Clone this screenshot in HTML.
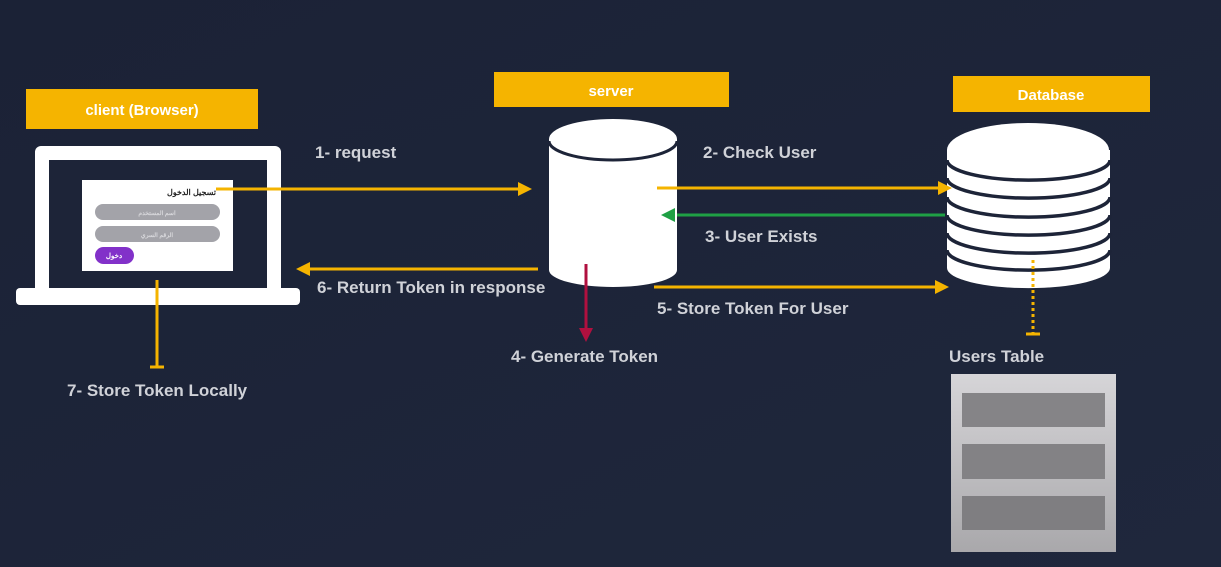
<!DOCTYPE html>
<html><head><meta charset="utf-8"><style>
html,body{margin:0;padding:0;background:#1d2438;}
svg{display:block}
text{font-family:"Liberation Sans","Noto Sans CJK SC",sans-serif;font-weight:bold;}
</style></head><body>
<svg width="1221" height="567" viewBox="0 0 1221 567">
<defs>
<linearGradient id="bg" x1="0" y1="0" x2="1" y2="1"><stop offset="0" stop-color="#1b2236"/><stop offset="1" stop-color="#1f273c"/></linearGradient>
<linearGradient id="tb" x1="0" y1="0" x2="0" y2="1"><stop offset="0" stop-color="#d6d5d8"/><stop offset="1" stop-color="#a9a8ab"/></linearGradient>
</defs>
<rect width="1221" height="567" fill="url(#bg)"/>
<rect x="26" y="89" width="232" height="40" fill="#f5b400"/>
<text x="142" y="115" fill="#fff" font-size="15" text-anchor="middle">client (Browser)</text>
<rect x="494" y="72" width="235" height="35" fill="#f5b400"/>
<text x="611" y="96" fill="#fff" font-size="15" text-anchor="middle">server</text>
<rect x="953" y="76" width="197" height="36" fill="#f5b400"/>
<text x="1051" y="100" fill="#fff" font-size="15" text-anchor="middle">Database</text>
<rect x="35" y="146" width="246" height="148" rx="6" fill="#fff"/>
<rect x="49" y="160" width="218" height="128" fill="#1d2438"/>
<rect x="16" y="288" width="284" height="17" rx="4" fill="#fff"/>
<rect x="82" y="180" width="151" height="91" fill="#fff"/>
<text x="216" y="195" fill="#222" font-size="8" text-anchor="end">تسجيل الدخول</text>
<rect x="95" y="204" width="125" height="16" rx="8" fill="#a3a3a9"/>
<text x="157" y="215" fill="#d8d8dc" font-size="6" text-anchor="middle">اسم المستخدم</text>
<rect x="95" y="226" width="125" height="16" rx="8" fill="#a3a3a9"/>
<text x="157" y="237" fill="#d8d8dc" font-size="6" text-anchor="middle">الرقم السري</text>
<rect x="95" y="247" width="39" height="17" rx="8.5" fill="#8231c9"/>
<text x="114" y="258" fill="#fff" font-size="7" text-anchor="middle">دخول</text>
<path d="M549 139 V270 A64 17 0 0 0 677 270 V139 Z" fill="#fff"/>
<ellipse cx="613" cy="139" rx="64" ry="20" fill="#fff"/>
<path d="M549 141 A64 19 0 0 0 677 141" fill="none" stroke="#1d2438" stroke-width="3"/>
<path d="M947 150 V268 A81 20 0 0 0 1110 268 V150 Z" fill="#fff"/>
<ellipse cx="1028" cy="150" rx="81" ry="27" fill="#fff"/>
<g fill="none" stroke="#1d2438" stroke-width="3.5">
<path d="M947 160 A81 20 0 0 0 1110 160"/>
<path d="M947 178 A81 20 0 0 0 1110 178"/>
<path d="M947 197 A81 20 0 0 0 1110 197"/>
<path d="M947 215 A81 20 0 0 0 1110 215"/>
<path d="M947 233 A81 20 0 0 0 1110 233"/>
<path d="M947 250 A81 20 0 0 0 1110 250"/>
</g>
<rect x="951" y="374" width="165" height="178" fill="url(#tb)"/>
<rect x="962" y="393" width="143" height="34" fill="#858487"/>
<rect x="962" y="444" width="143" height="35" fill="#838285"/>
<rect x="962" y="496" width="143" height="34" fill="#7f7e81"/>
<g stroke="#f5b400" stroke-width="3" fill="none">
<line x1="216" y1="189" x2="520" y2="189"/>
<line x1="657" y1="188" x2="940" y2="188"/>
<line x1="308" y1="269" x2="538" y2="269"/>
<line x1="654" y1="287" x2="937" y2="287"/>
<line x1="157" y1="280" x2="157" y2="367"/>
<line x1="150" y1="367" x2="164" y2="367"/>
<line x1="1033" y1="260" x2="1033" y2="333" stroke-dasharray="3,3"/>
<line x1="1026" y1="334" x2="1040" y2="334"/>
</g>
<g fill="#f5b400">
<polygon points="532,189 518,182 518,196"/>
<polygon points="952,188 938,181 938,195"/>
<polygon points="296,269 310,262 310,276"/>
<polygon points="949,287 935,280 935,294"/>
</g>
<line x1="677" y1="215" x2="945" y2="215" stroke="#1fa045" stroke-width="3"/>
<polygon points="661,215 675,208 675,222" fill="#1fa045"/>
<line x1="586" y1="264" x2="586" y2="330" stroke="#b0103f" stroke-width="3"/>
<polygon points="586,342 579,328 593,328" fill="#b0103f"/>
<g fill="#d0d2d8" font-size="17">
<text x="315" y="158">1- request</text>
<text x="703" y="158">2- Check User</text>
<text x="705" y="242">3- User Exists</text>
<text x="511" y="362">4- Generate Token</text>
<text x="657" y="314">5- Store Token For User</text>
<text x="317" y="293">6- Return Token in response</text>
<text x="67" y="396">7- Store Token Locally</text>
<text x="949" y="362">Users Table</text>
</g>
</svg>
</body></html>
